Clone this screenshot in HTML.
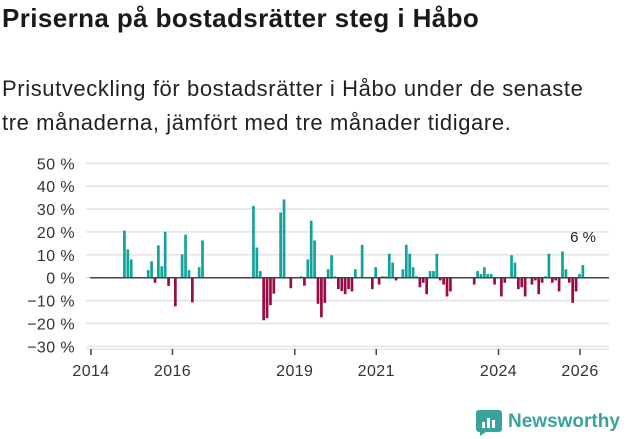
<!DOCTYPE html>
<html><head><meta charset="utf-8"><style>
body{margin:0;width:631px;height:439px;background:#fff;font-family:"Liberation Sans","DejaVu Sans",sans-serif;color:#222;overflow:hidden;position:relative}
h1{position:absolute;left:2px;top:3px;margin:0;font-size:26px;font-weight:bold;color:#1a1a1a;letter-spacing:0.4px}
p.sub{position:absolute;left:2px;top:72px;margin:0;font-size:22px;line-height:34px;color:#222;width:614px;letter-spacing:0.6px}
svg{position:absolute;left:0;top:0}
</style></head><body>
<h1>Priserna på bostadsrätter steg i Håbo</h1>
<p class="sub">Prisutveckling för bostadsrätter i Håbo under de senaste tre månaderna, jämfört med tre månader tidigare.</p>
<svg id="chart" width="631" height="439"></svg>
<script>
const months=[9,10,11,16,17,18,19,20,21,22,24,26,27,28,29,31,32,47,48,49,50,51,52,53,55,56,58,61,62,63,64,65,66,67,68,69,70,71,72,73,74,75,76,77,79,82,83,84,85,86,87,88,89,91,92,93,94,95,96,97,98,99,100,101,102,103,104,105,112,113,114,115,116,117,118,120,121,123,124,125,126,127,129,130,131,132,133,134,135,136,137,138,139,140,141,142,143,144];
const values=[20.6,12.4,8,3.3,7.2,-2.2,14.1,5,20.1,-3.6,-12.5,10.2,18.8,3.3,-10.8,4.6,16.3,31.4,13.2,2.9,-18.6,-17.7,-12,-7,28.5,34.2,-4.6,0.6,-3.5,8,24.9,16.3,-11.4,-17.3,-11,3.7,9.8,0.6,-5,-5.8,-7.2,-5,-6,3.7,14.4,-5,4.6,-3,0.6,0.6,10.5,6.6,-1.2,3.7,14.4,10.5,4.6,0.6,-4.2,-2.2,-7.2,2.9,2.9,10.5,-1.2,-3,-8.2,-6,-3,2.9,1.6,4.6,1.6,1.6,-3,-8.2,-2.2,9.8,6.6,-5,-4.2,-8.2,-3,-1.2,-7.2,-2.2,0.6,10.5,-2.2,-1.2,-6,11.5,3.7,-2.2,-11,-6,1.6,5.5];
const yTicks=[50,40,30,20,10,0,-10,-20,-30];
const xTickYears=[2014,2016,2019,2021,2024,2026];
const lastLabel="6 %";
const NS="http://www.w3.org/2000/svg";
const svg=document.getElementById('chart');
const y=v=>277.7-v*2.288;
const xm=m=>91+m*3.396;
const xy=yr=>xm((yr-2014)*12);
function mk(t,a){const e=document.createElementNS(NS,t);for(const k in a)e.setAttribute(k,a[k]);svg.appendChild(e);return e;}
yTicks.forEach(v=>{
  const g=mk('line',{x1:86,x2:609,y1:y(v),y2:y(v),stroke:'#e0e0e0','stroke-width':1.3});
  
  
  const t=mk('text',{x:75,y:y(v)+6,'text-anchor':'end','font-size':16,'letter-spacing':0.4,fill:'#333'});
  t.textContent=(v<0?'\u2212'+(-v):v)+' %';
  
  
});
const ax=mk('line',{x1:86,x2:609,y1:349,y2:349,stroke:'#e0e0e0','stroke-width':1.3});


xTickYears.forEach(yr=>{
  const tk=mk('line',{x1:xy(yr),x2:xy(yr),y1:349,y2:355,stroke:'#444','stroke-width':1.5});
  
  
  const t=mk('text',{x:xy(yr),y:376,'text-anchor':'middle','font-size':16,'letter-spacing':0.4,fill:'#333'});
  t.textContent=yr;
  
  
});
months.forEach((m,i)=>{
  const v=values[i];
  const b=mk('rect',{x:xm(m)+1.5,width:2.7,y:Math.min(y(v),y(0)),height:Math.max(0.8,Math.abs(y(v)-y(0))),fill:v>=0?'#12a39a':'#9b0a45'});
  
  
});
const z=mk('line',{x1:90,x2:609,y1:y(0),y2:y(0),stroke:'#444','stroke-width':1.5});


const lm=months[months.length-1];
const lb=mk('text',{x:xm(lm)+3,y:y(values[values.length-1])-23,'text-anchor':'middle','font-size':15,fill:'#222'});
lb.textContent=lastLabel;


</script>
<div style="position:absolute;left:476px;top:408px;display:flex;align-items:center">
<svg width="26" height="28" style="position:static"><path d="M3 2h20a3 3 0 0 1 3 3v16a3 3 0 0 1-3 3H10l-6 4v-4H3a3 3 0 0 1-3-3V5a3 3 0 0 1 3-3z" fill="#3aa39b"/><rect x="6" y="14" width="3" height="6" fill="#fff"/><rect x="11" y="10" width="3" height="10" fill="#fff"/><rect x="16" y="12" width="3" height="8" fill="#fff"/></svg>
<span style="font-size:19px;font-weight:bold;color:#3aa39b;margin-left:6px">Newsworthy</span></div>
</body></html>
